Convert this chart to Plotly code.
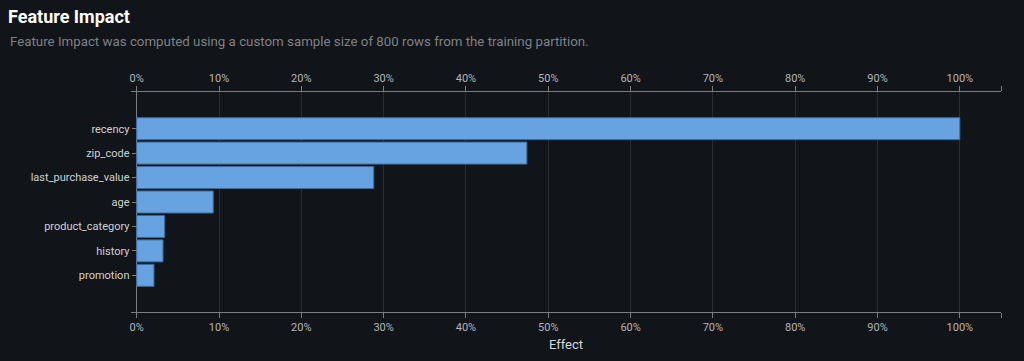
import plotly.graph_objects as go

features = ["recency", "zip_code", "last_purchase_value", "age",
            "product_category", "history", "promotion"]
effects = [100.0, 47.4, 28.8, 9.3, 3.4, 3.2, 2.1]

tick_vals = [0, 10, 20, 30, 40, 50, 60, 70, 80, 90, 100, 105]
tick_text = ["0%", "10%", "20%", "30%", "40%", "50%", "60%", "70%", "80%", "90%", "100%", ""]

title_text = "Feature Impact"
subtitle_text = ("Feature Impact was computed using a custom sample size of 800 rows "
                 "from the training partition.")
x_title = "Effect"

BG = "#111418"
FONT = "Roboto"
AXIS = "#7a7d81"
GRID = "#2a2d32"
TICKFONT = "#b4b6b9"

W, H = 1024, 361
ML, MR, MT, MB = 131, 23, 92, 49
x_lo, x_hi = -0.69, 105.0

fig = go.Figure()
fig.add_trace(go.Bar(
    x=effects, y=features, orientation="h", width=0.9,
    marker=dict(color="#66a3e0", line=dict(color="#3b6a99", width=1)),
    hoverinfo="x+y", showlegend=False,
))
# invisible trace to carry top axis
fig.add_trace(go.Scatter(x=[0], y=[features[0]], xaxis="x2", mode="markers",
                         marker=dict(opacity=0), hoverinfo="skip", showlegend=False))

plot_w = W - ML - MR
ypos = (0 - x_lo) / (x_hi - x_lo)

axis_common = dict(
    range=[x_lo, x_hi], tickmode="array", tickvals=tick_vals, ticktext=tick_text,
    ticks="outside", ticklen=5, tickcolor=AXIS, tickwidth=1,
    showline=True, linecolor=AXIS, linewidth=1,
    tickfont=dict(family=FONT, size=11, color=TICKFONT),
    fixedrange=True,
)

fig.update_layout(
    width=W, height=H,
    paper_bgcolor=BG, plot_bgcolor=BG,
    margin=dict(l=ML, r=MR, t=MT, b=MB, pad=0),
    font=dict(family=FONT, color="#d0d2d4"),
    bargap=0.1,
    xaxis=dict(
        **axis_common, side="bottom",
        showgrid=True, gridcolor=GRID, gridwidth=1,
        zeroline=True, zerolinecolor=AXIS, zerolinewidth=1,
        title=dict(text=x_title, font=dict(family=FONT, size=13, color="#d6d8da"), standoff=6),
    ),
    xaxis2=dict(
        **axis_common, side="top", overlaying="x", anchor="y",
        showgrid=False, zeroline=False,
    ),
    yaxis=dict(
        categoryorder="array", categoryarray=features,
        range=[len(features) + 0.5, -1.5],
        anchor="free", position=ypos,
        ticks="outside", ticklen=5, tickcolor=AXIS, tickwidth=1,
        showline=False, showgrid=False, zeroline=False,
        tickfont=dict(family=FONT, size=11, color="#d0d2d4"),
        fixedrange=True,
    ),
    title=dict(
        text="<b>" + title_text + "</b>",
        font=dict(family=FONT, size=18, color="#ffffff"),
        xref="container", yref="container",
        x=8 / W, xanchor="left", y=1 - 17 / H, yanchor="middle",
    ),
    annotations=[dict(
        text=subtitle_text, showarrow=False,
        xref="paper", yref="paper",
        x=(8 - ML) / plot_w, xanchor="left",
        y=(H - MB - 42) / (H - MT - MB), yanchor="middle",
        font=dict(family=FONT, size=13.3, color="#7f8286"),
    )],
)

fig.write_html(
    "out.html",
    config={"displayModeBar": False},
    post_script="document.body.style.margin='0';document.body.style.background='" + BG + "';",
)
